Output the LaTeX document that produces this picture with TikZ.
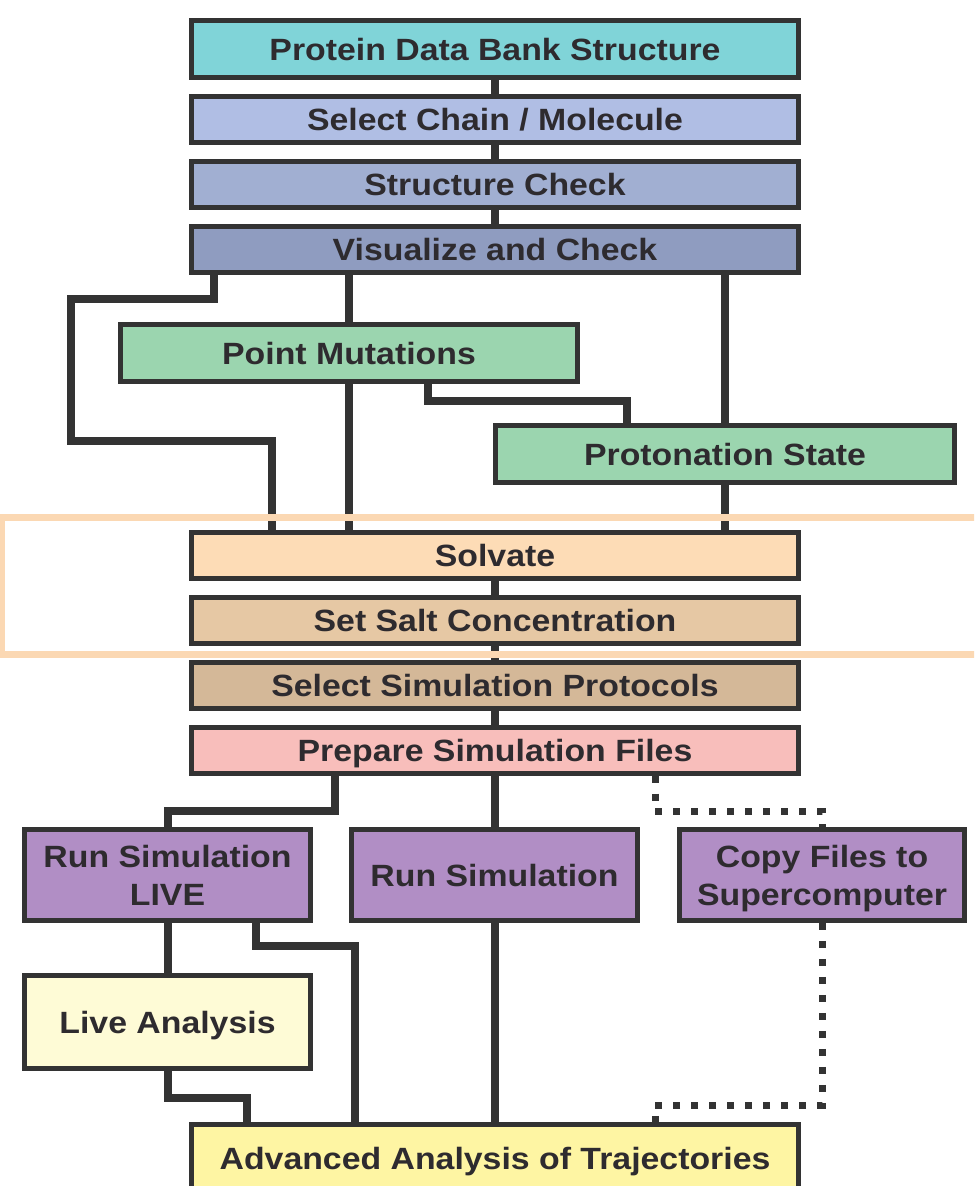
\documentclass[tikz,border=0pt]{standalone}
\usepackage{fontspec}
\setmainfont{Liberation Sans}[FakeStretch=1.1]
\usepackage{tikz}
\usetikzlibrary{calc}
\definecolor{ink}{HTML}{2E2B2F}
\definecolor{edge}{HTML}{333333}
\definecolor{pdbcol}{HTML}{80D4D8}
\definecolor{chaincol}{HTML}{B0BEE4}
\definecolor{checkcol}{HTML}{A1AFD2}
\definecolor{viscol}{HTML}{8F9CC0}
\definecolor{mutcol}{HTML}{9BD5AF}
\definecolor{solvcol}{HTML}{FDDCB6}
\definecolor{saltcol}{HTML}{E6C8A4}
\definecolor{protcol}{HTML}{D4B898}
\definecolor{prepcol}{HTML}{F8BEBB}
\definecolor{runcol}{HTML}{B18EC5}
\definecolor{livecol}{HTML}{FEFBD6}
\definecolor{advcol}{HTML}{FEF5A3}
\definecolor{hilite}{HTML}{FBD8B3}

\begin{document}
\begin{tikzpicture}[x=0.02cm,y=-0.02cm,
  box/.style={draw=edge,line width=0.1cm,text=ink,inner sep=0pt,align=center,
    font=\fontsize{17.5}{21.5}\selectfont\bfseries},
  oneline/.style={text height=12.6pt,text depth=0pt},
  wide/.style={box,oneline,minimum width=12.14cm,minimum height=0.92cm},
  tall/.style={box,minimum width=5.72cm,minimum height=1.82cm},
  link/.style={draw=edge,line width=0.16cm},
  dotlink/.style={draw=edge,line width=0.14cm,dash pattern=on 0.14cm off 0.22cm}]
\clip (0,0) rectangle (974,1186);

\node[wide,fill=pdbcol,minimum height=1.14cm] (pdb) at (495,49) {Protein Data Bank Structure};
\node[wide,fill=chaincol] (chain) at (495,119.5) {Select Chain / Molecule};
\node[wide,fill=checkcol] (check) at (495,184.5) {Structure Check};
\node[wide,fill=viscol] (vis) at (495,249.5) {Visualize and Check};
\node[box,oneline,fill=mutcol,minimum width=9.14cm,minimum height=1.14cm] (mut) at (349,353) {Point Mutations};
\node[box,oneline,fill=mutcol,minimum width=9.18cm,minimum height=1.14cm] (proto) at (725,454) {Protonation State};
\node[wide,fill=solvcol] (solv) at (495,555.5) {Solvate};
\node[wide,fill=saltcol] (salt) at (495,620.5) {Set Salt Concentration};
\node[wide,fill=protcol] (simprot) at (495,685) {Select Simulation Protocols};
\node[wide,fill=prepcol] (prep) at (495,750) {Prepare Simulation Files};
\node[tall,fill=runcol] (live) at (167.5,875) {Run Simulation\\LIVE};
\node[tall,oneline,fill=runcol] (run) at (494.5,875) {Run Simulation};
\node[tall,fill=runcol,text depth=0pt] (copy) at (822,875) {Copy Files to\\Supercomputer};
\node[tall,oneline,fill=livecol,minimum height=1.86cm] (lana) at (167.5,1022) {Live Analysis};
\node[wide,fill=advcol,minimum height=1.34cm] (adv) at (495,1158) {Advanced Analysis of Trajectories};

\draw[link] (pdb.south) -- (chain.north);
\draw[link] (chain.south) -- (check.north);
\draw[link] (check.south) -- (vis.north);
\draw[link] (214,0 |- vis.south) |- (71,299) |- (272,441) -- (272,0 |- solv.north);
\draw[link] (vis.south -| mut.north) -- (mut.north);
\draw[link] (mut.south) -- (mut.south |- solv.north);
\draw[link] (vis.south -| proto.north) -- (proto.north);
\draw[link] (proto.south) -- (proto.south |- solv.north);
\draw[link] (428,0 |- mut.south) |- (627,401) -- (627,0 |- proto.north);
\draw[link] (solv.south) -- (salt.north);
\draw[link] (salt.south) -- (simprot.north);
\draw[link] (simprot.south) -- (prep.north);
\draw[link] (335,0 |- prep.south) -- (335,811) -| (live.north);
\draw[link] (prep.south -| run.north) -- (run.north);
\draw[dotlink] (655,0 |- prep.south) -- (655,811) -| (copy.north);
\draw[link] (live.south) -- (lana.north);
\draw[link] (256,0 |- live.south) -- (256,946) -| (355,0 |- adv.north);
\draw[link] (lana.south) |- (247,1098) -- (247,0 |- adv.north);
\draw[link] (run.south) -- (run.south |- adv.north);
\draw[dotlink] (copy.south) |- (655,1105) -- (655,0 |- adv.north);

\draw[hilite,line width=0.14cm] (2,517) rectangle (1000,654);
\end{tikzpicture}
\end{document}
